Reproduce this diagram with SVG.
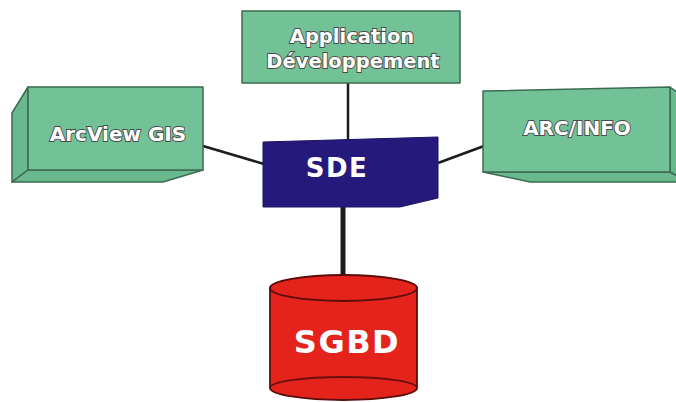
<svg xmlns="http://www.w3.org/2000/svg" width="676" height="402" viewBox="0 0 676 402">
<style>
.face{fill:#73c297;stroke:#3d6b52;stroke-width:1.5;stroke-linejoin:round}
.side{fill:#6ab88d;stroke:#3d6b52;stroke-width:1.5;stroke-linejoin:round}
.lbl{font-family:"DejaVu Sans","Liberation Sans",sans-serif;font-weight:bold;fill:#ffffff;stroke:#4a4a4a;stroke-width:1.8;paint-order:stroke;text-anchor:middle}
.big{font-family:"DejaVu Sans","Liberation Sans",sans-serif;font-weight:bold;fill:#ffffff;text-anchor:middle}
.wire{stroke:#1c1c1c;fill:none;stroke-linecap:butt}
</style>
<rect width="676" height="402" fill="#ffffff"/>
<g id="connectors">
<line class="wire" x1="348" y1="83" x2="348" y2="140" stroke-width="2.5"/>
<line class="wire" x1="203" y1="146" x2="264" y2="164" stroke-width="2.5"/>
<line class="wire" x1="438" y1="163" x2="484" y2="146" stroke-width="2.5"/>
<line class="wire" x1="343" y1="206" x2="343" y2="277" stroke-width="5"/>
</g>
<g id="app">
<rect class="face" x="242" y="11" width="218" height="72"/>
<text class="lbl" x="352" y="43" font-size="19.5">Application</text>
<text class="lbl" x="353" y="68" font-size="19.5">Développement</text>
</g>
<g id="arcview">
<polygon class="side" points="12,113 28,87 28,170 12,182"/>
<polygon class="side" points="12,182 28,170 203,170 163,182"/>
<polygon class="face" points="28,87 203,87 203,170 28,170"/>
<text class="lbl" x="118" y="141" font-size="20">ArcView GIS</text>
</g>
<g id="arcinfo">
<polygon class="side" points="670,87 688,100 688,182 670,172"/>
<polygon class="side" points="483,172 670,172 688,182 530,182"/>
<polygon class="face" points="483,91 670,87 670,172 483,172"/>
<text class="lbl" x="577" y="135" font-size="20">ARC/INFO</text>
</g>
<g id="sde">
<polygon points="263,142 438,137 438,198 400,207 263,207" fill="#26197c" stroke="#1c1260" stroke-width="1"/>
<line x1="400" y1="139" x2="400" y2="207" stroke="#221670" stroke-width="1"/>
<text class="big" x="337" y="177" font-size="26" letter-spacing="1.5">SDE</text>
</g>
<g id="sgbd">
<path d="M270,288 L270,388 A73.5,12 0 0 0 417,388 L417,288 A73.5,12 0 0 0 270,288 Z" fill="#e3231c" stroke="#5a0d0a" stroke-width="1.8"/>
<ellipse cx="343.5" cy="288" rx="73.5" ry="13" fill="#e3231c" stroke="#5a0d0a" stroke-width="1.8"/>
<path d="M270,388 A73.5,11 0 0 1 417,388" fill="none" stroke="#6a100c" stroke-width="1.8"/>
<text class="big" x="347" y="353" font-size="32" letter-spacing="1.5">SGBD</text>
</g>
</svg>
